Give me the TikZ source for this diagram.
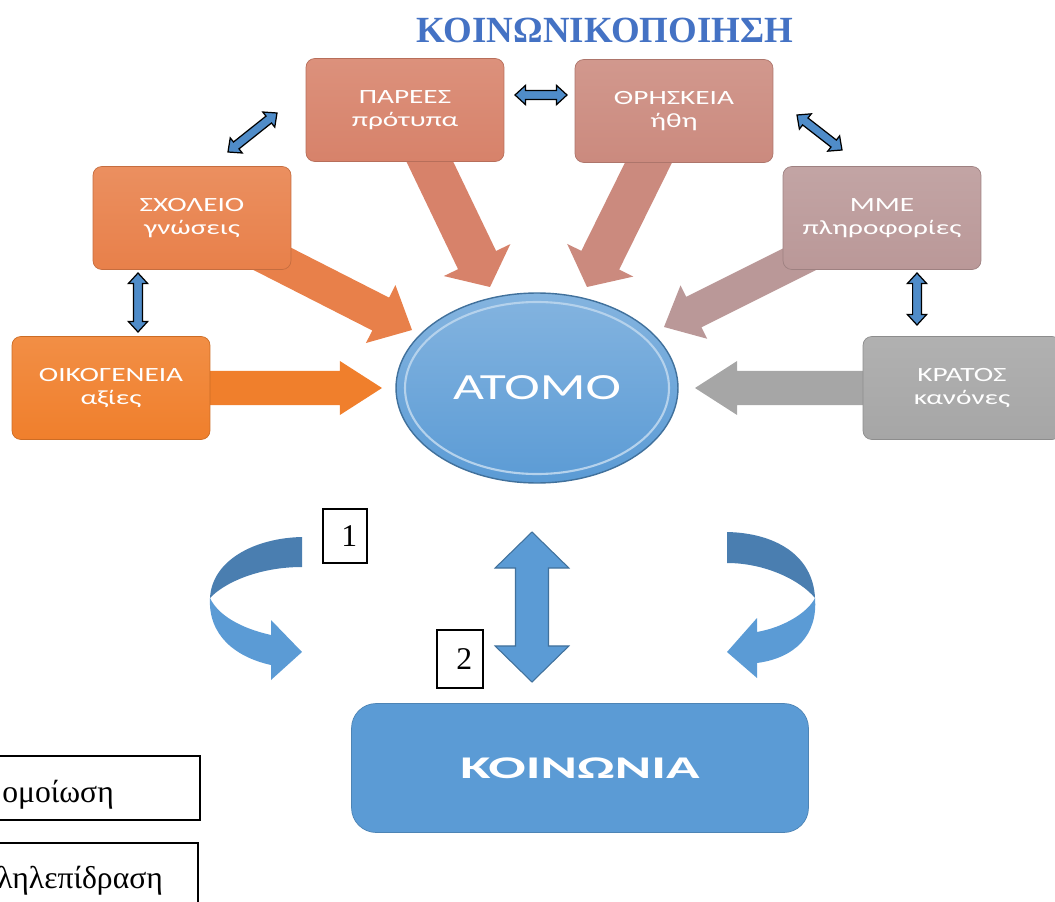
\documentclass[tikz,border=0pt]{standalone}
\usepackage{fontspec}
\setmainfont{Liberation Serif}
\newfontfamily\boxfont[FakeStretch=1.45]{Carlito}
\newfontfamily\socfont[FakeStretch=1.75]{Carlito}
\usetikzlibrary{shapes.geometric,calc,backgrounds}

\definecolor{oikcol}{HTML}{F07F2C}
\definecolor{schcol}{HTML}{E8804A}
\definecolor{pacol}{HTML}{D7826A}
\definecolor{thrcol}{HTML}{CB8A7E}
\definecolor{mmecol}{HTML}{BA9898}
\definecolor{kracol}{HTML}{A6A6A6}
\definecolor{atblue}{HTML}{5B9BD5}
\definecolor{atedge}{HTML}{41719C}
\definecolor{curvedark}{HTML}{4A7EB0}
\definecolor{titleblue}{HTML}{4472C4}
\definecolor{smallblue}{HTML}{4F8CC9}

% #1 from, #2 tip, #3 style, #4 half shaft, #5 half head, #6 head length
\newcommand{\fatarrow}[6]{%
  \coordinate (fa-h) at ($(#2)!#6!(#1)$);
  \fill[#3] ($(#1)!#4!90:(#2)$) -- ($(fa-h)!#4!90:(#2)$) -- ($(fa-h)!#5!90:(#2)$) -- (#2)
    -- ($(fa-h)!#5!-90:(#2)$) -- ($(fa-h)!#4!-90:(#2)$) -- ($(#1)!#4!-90:(#2)$) -- cycle;}
\newcommand{\twowayarrow}[6]{%
  \coordinate (tw-a) at ($(#1)!#6!(#2)$);
  \coordinate (tw-b) at ($(#2)!#6!(#1)$);
  \filldraw[#3] (#1) -- ($(tw-a)!#5!90:(#2)$) -- ($(tw-a)!#4!90:(#2)$) -- ($(tw-b)!#4!-90:(#1)$)
    -- ($(tw-b)!#5!-90:(#1)$) -- (#2) -- ($(tw-b)!#5!90:(#1)$) -- ($(tw-b)!#4!90:(#1)$)
    -- ($(tw-a)!#4!-90:(#2)$) -- ($(tw-a)!#5!-90:(#2)$) -- cycle;}

\begin{document}
\begin{tikzpicture}[x=0.02cm, y=-0.02cm,
    box/.style={rectangle, rounded corners=5pt, minimum width=3.96cm, minimum height=2.06cm,
      align=center, text=white, font=\boxfont\fontsize{11.5}{13}\selectfont,
      top color=#1!88!white, bottom color=#1, draw=#1!85!black, line width=0.4pt}]
  \tikzstyle{atom}=[ellipse, minimum width=5.64cm, minimum height=3.8cm, top color=atblue!75!white,
    bottom color=atblue, draw=atedge, line width=0.8pt, text=white, font=\boxfont\fontsize{21}{24}\selectfont]
  \tikzstyle{society}=[rectangle, rounded corners=14pt, minimum width=9.14cm, minimum height=2.58cm,
    fill=atblue, draw=atblue!85!black, text=white, font=\socfont\bfseries\fontsize{18}{20}\selectfont]
  \tikzstyle{numbox}=[rectangle, draw, line width=0.8pt, fill=white, font=\fontsize{18}{20}\selectfont]
  \tikzstyle{legbox}=[rectangle, draw, line width=0.8pt, fill=white]
  \tikzstyle{legtext}=[anchor=base west, inner sep=0pt, font=\fontsize{18}{20}\selectfont]
  \tikzstyle{smallarrow}=[fill=smallblue, draw=black, line width=0.7pt, line join=miter]
  \tikzstyle{bigtwoway}=[fill=atblue, draw=atedge, line width=0.6pt]

  \useasboundingbox (0,0) rectangle (1055,902);

  \node[text=titleblue, font=\bfseries\fontsize{21}{24}\selectfont] (title) at (605,30) {ΚΟΙΝΩΝΙΚΟΠΟΙΗΣΗ};

  \node[box=pacol]  (pa)  at (405,110) {ΠΑΡΕΕΣ\\πρότυπα};
  \node[box=thrcol] (thr) at (674,111) {ΘΡΗΣΚΕΙΑ\\ήθη};
  \node[box=schcol] (sch) at (192,218) {ΣΧΟΛΕΙΟ\\γνώσεις};
  \node[box=mmecol] (mme) at (882,218) {ΜΜΕ\\πληροφορίες};
  \node[box=oikcol] (oik) at (111,388) {ΟΙΚΟΓΕΝΕΙΑ\\αξίες};
  \node[box=kracol] (kra) at (962,388) {ΚΡΑΤΟΣ\\κανόνες};

  \node[atom] (atomo) at (537,388) {ΑΤΟΜΟ};
  \draw[atblue!45!white, line width=1.2pt] (atomo.center) ellipse [x radius=132, y radius=86];

  \node[society] (koin) at (580,768) {ΚΟΙΝΩΝΙΑ};

  \coordinate (oik-tip) at (382,388);
  \coordinate (kra-tip) at (695,388);
  \coordinate (sch-tip) at (412,330);
  \coordinate (pa-tip)  at (490,287);
  \coordinate (thr-tip) at (587,287);
  \coordinate (mme-tip) at (664,327);

  \begin{scope}[on background layer]
    \fatarrow{oik.center}{oik-tip}{oikcol}{9.7pt}{15.4pt}{24pt}
    \fatarrow{kra.center}{kra-tip}{kracol}{9.7pt}{15.4pt}{24pt}
    \fatarrow{sch.center}{sch-tip}{schcol}{10.5pt}{18.5pt}{20pt}
    \fatarrow{pa.center}{pa-tip}{pacol}{12pt}{21pt}{17pt}
    \fatarrow{thr.center}{thr-tip}{thrcol}{12pt}{21pt}{17pt}
    \fatarrow{mme.center}{mme-tip}{mmecol}{9.7pt}{17pt}{19pt}
  \end{scope}

  \coordinate (sp-a) at (228,152);
  \coordinate (sp-b) at (277,113);
  \coordinate (pt-a) at (515,95);
  \coordinate (pt-b) at (567,95);
  \coordinate (tm-a) at (797,115);
  \coordinate (tm-b) at (842,150);
  \coordinate (os-a) at (138,273);
  \coordinate (os-b) at (138,332);
  \coordinate (mk-a) at (917,273);
  \coordinate (mk-b) at (917,325);
  \twowayarrow{sp-a}{sp-b}{smallarrow}{2.5pt}{5.5pt}{6pt}
  \twowayarrow{pt-a}{pt-b}{smallarrow}{2.5pt}{5.5pt}{6pt}
  \twowayarrow{tm-a}{tm-b}{smallarrow}{2.5pt}{5.5pt}{6pt}
  \twowayarrow{os-a}{os-b}{smallarrow}{2.5pt}{5.5pt}{6pt}
  \twowayarrow{mk-a}{mk-b}{smallarrow}{2.5pt}{5.5pt}{6pt}

  \coordinate (ak-a) at (532,532);
  \coordinate (ak-b) at (532,682);
  \twowayarrow{ak-a}{ak-b}{bigtwoway}{9.4pt}{21pt}{20.5pt}

  \fill[curvedark] (302,537) .. controls (255,538) and (212,560) .. (210,598)
    .. controls (225,582) and (260,567) .. (302,567) -- cycle;
  \fill[atblue] (210,598) .. controls (208,635) and (235,657) .. (271,665) -- (271,680) -- (302,652)
    -- (271,620) -- (271,635) .. controls (240,628) and (218,615) .. (210,598) -- cycle;
  \fill[curvedark] (727,532) .. controls (775,533) and (813,555) .. (815,598)
    .. controls (800,580) and (765,563) .. (727,563) -- cycle;
  \fill[atblue] (815,598) .. controls (818,635) and (795,658) .. (757,663) -- (757,678) -- (727,652)
    -- (757,618) -- (757,632) .. controls (785,627) and (808,612) .. (815,598) -- cycle;

  \node[numbox, minimum width=0.88cm, minimum height=1.08cm] (n1) at (345,536) {\hspace*{5pt}1};
  \node[numbox, minimum width=0.92cm, minimum height=1.16cm] (n2) at (460,659) {\hspace*{5pt}2};

  \node[legbox, minimum width=4.2cm, minimum height=1.28cm] (leg1) at (95,788) {};
  \node[legbox, minimum width=4.16cm, minimum height=1.44cm] (leg2) at (94,879) {};
  \node[legtext] (leg1t) at (2,802) {ομοίωση};
  \node[legtext] (leg2t) at (-3,888) {ληλεπίδραση};
\end{tikzpicture}
\end{document}
